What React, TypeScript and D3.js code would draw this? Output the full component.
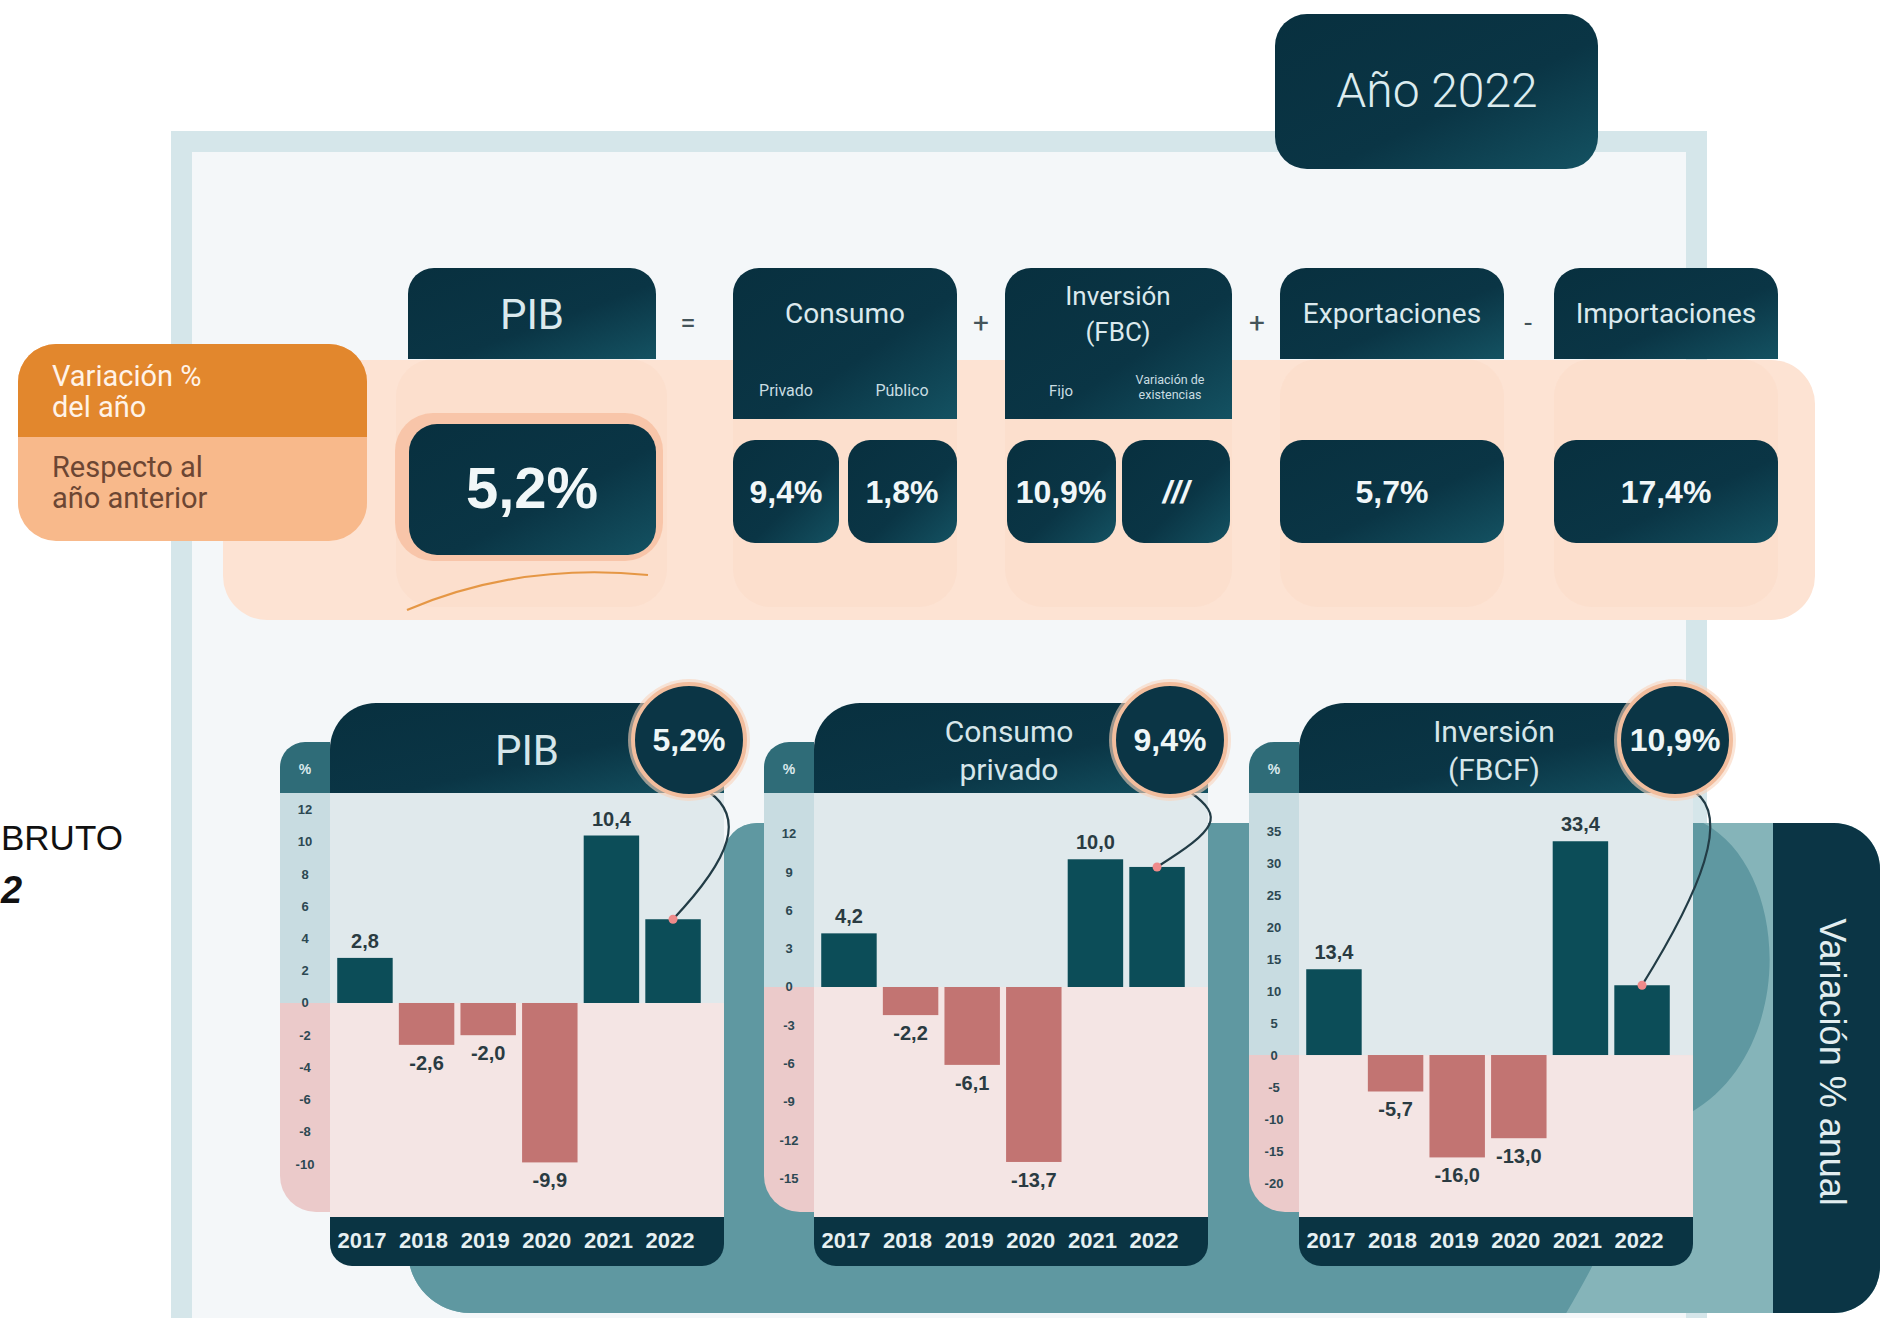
import React from "react";
import * as d3 from "d3";

// values (variación % anual)
const years = ["2017", "2018", "2019", "2020", "2021", "2022"];
const pibValues = [2.8, -2.6, -2.0, -9.9, 10.4, 5.2];
const consumoValues = [4.2, -2.2, -6.1, -13.7, 10.0, 9.4];
const inversionValues = [13.4, -5.7, -16.0, -13.0, 33.4, 10.9];

const pibTicks = [12, 10, 8, 6, 4, 2, 0, -2, -4, -6, -8, -10];
const consumoTicks = [12, 9, 6, 3, 0, -3, -6, -9, -12, -15];
const inversionTicks = [35, 30, 25, 20, 15, 10, 5, 0, -5, -10, -15, -20];

const chartTitles = [["PIB"], ["Consumo", "privado"], ["Inversión", "(FBCF)"]];
const badgeLabels = ["5,2%", "9,4%", "10,9%"];

const topHeaders = [["PIB"], ["Consumo"], ["Inversión", "(FBC)"], ["Exportaciones"], ["Importaciones"]];
const operators = ["=", "+", "+", "-"];
const subHeaders = [["Privado"], ["Público"], ["Fijo"], ["Variación de", "existencias"]];
const topValues = ["5,2%", "9,4%", "1,8%", "10,9%", "///", "5,7%", "17,4%"];
const rowLabels = [["Variación %", "del año"], ["Respecto al", "año anterior"]];
const yearTitle = "Año 2022";
const sideTitle = "Variación % anual";

const W = 1894;
const H = 1318;
const DARK = "#0b3545";
const POS = "#0c4d58";
const NEG = "#c27472";
const NUM_FONT = "'Liberation Sans', Arial, sans-serif";
const TXT_FONT = "Roboto, 'Open Sans', sans-serif";

const fmt = d3
  .formatLocale({ decimal: ",", thousands: ".", grouping: [3], currency: ["", ""], minus: "-" })
  .format(".1f");

// rounded rect with its own radius per corner
function rr(x: number, y: number, w: number, h: number, tl: number, tr: number, br: number, bl: number) {
  return `M${x + tl},${y} H${x + w - tr} A${tr},${tr} 0 0 1 ${x + w},${y + tr} V${y + h - br} A${br},${br} 0 0 1 ${x + w - br},${y + h} H${x + bl} A${bl},${bl} 0 0 1 ${x},${y + h - bl} V${y + tl} A${tl},${tl} 0 0 1 ${x + tl},${y} Z`;
}

// layout of the card row
const COL_W = 50;
const PLOT_W = 394;
const HEADER_TOP = 703;
const CAP_TOP = 742;
const PLOT_TOP = 793;
const PLOT_BOTTOM = 1217;
const AXIS_BOTTOM = 1266;
const COL_BOTTOM = 1212;
const BADGE_Y = 740;

const cards = [
  { x0: 280, values: pibValues, ticks: pibTicks, domain: [-13.29, 13.04], badgeX: 689 },
  { x0: 764, values: consumoValues, ticks: consumoTicks, domain: [-18.01, 15.19], badgeX: 1170 },
  { x0: 1249, values: inversionValues, ticks: inversionTicks, domain: [-25.31, 40.94], badgeX: 1675 },
];

function ChartCard({ idx }: { idx: number }) {
  const { x0, values, ticks, domain, badgeX } = cards[idx];
  const plotX = x0 + COL_W;
  const x = d3
    .scaleBand<string>()
    .domain(years)
    .range([plotX + 6, plotX + 372])
    .paddingInner(0.1)
    .paddingOuter(0.02);
  const y = d3.scaleLinear().domain(domain).range([PLOT_BOTTOM, PLOT_TOP]);
  const zero = y(0);
  const last = values.length - 1;
  const ex = (x(years[last]) as number) + x.bandwidth() / 2;
  const ey = y(values[last]);
  const sx = badgeX + 20;
  const sy = BADGE_Y + 52;
  const connector = `M${sx},${sy} C${sx + 35},${sy + 25} ${ex + 60},${ey - (ey - sy) * 0.5} ${ex},${ey}`;
  const title = chartTitles[idx];

  return (
    <g>
      {/* % column */}
      <path d={rr(x0, CAP_TOP, COL_W, PLOT_TOP - CAP_TOP, 25, 0, 0, 0)} fill="#2f6c78" />
      <text x={x0 + 25} y={774} textAnchor="middle" fontFamily={NUM_FONT} fontWeight="bold" fontSize={14} fill="#dbe9ec">
        %
      </text>
      <rect x={x0} y={PLOT_TOP} width={COL_W} height={zero - PLOT_TOP} fill="#c8dce1" />
      <path d={rr(x0, zero, COL_W, COL_BOTTOM - zero, 0, 0, 0, 36)} fill="#ebcaca" />

      {/* plot background */}
      <rect x={plotX} y={PLOT_TOP} width={PLOT_W} height={zero - PLOT_TOP} fill="#e0e9ec" />
      <rect x={plotX} y={zero} width={PLOT_W} height={PLOT_BOTTOM - zero} fill="#f4e5e4" />

      {/* header */}
      <path d={rr(plotX, HEADER_TOP, PLOT_W, PLOT_TOP - HEADER_TOP, 46, 20, 0, 0)} fill="url(#darkGrad)" />
      {title.length === 1 ? (
        <text x={plotX + PLOT_W / 2} y={765} textAnchor="middle" fontFamily={TXT_FONT} fontSize={42} fill="#d6e6ea">
          {title[0]}
        </text>
      ) : (
        title.map((t, i) => (
          <text
            key={t}
            x={plotX + PLOT_W / 2 - 2}
            y={742 + i * 38}
            textAnchor="middle"
            fontFamily={TXT_FONT}
            fontSize={30}
            fill="#d6e6ea"
          >
            {t}
          </text>
        ))
      )}

      {/* x axis band */}
      <path d={rr(plotX, PLOT_BOTTOM, PLOT_W, AXIS_BOTTOM - PLOT_BOTTOM, 0, 0, 22, 22)} fill="#0a3443" />
      {years.map((yr) => (
        <text
          key={yr}
          x={(x(yr) as number) + x.bandwidth() / 2 - 3}
          y={1248}
          textAnchor="middle"
          fontFamily={NUM_FONT}
          fontWeight="bold"
          fontSize={22}
          fill="#e6f0f2"
        >
          {yr}
        </text>
      ))}

      {/* tick labels */}
      {ticks.map((t) => (
        <text
          key={t}
          x={x0 + 25}
          y={y(t) + 4.5}
          textAnchor="middle"
          fontFamily={NUM_FONT}
          fontWeight="bold"
          fontSize={13}
          fill="#2c4852"
        >
          {t}
        </text>
      ))}

      {/* bars */}
      {values.map((v, i) => (
        <rect
          key={years[i]}
          x={x(years[i])}
          y={Math.min(y(v), zero)}
          width={x.bandwidth()}
          height={Math.abs(y(v) - zero)}
          fill={v >= 0 ? POS : NEG}
        />
      ))}
      {values.slice(0, last).map((v, i) => (
        <text
          key={years[i]}
          x={(x(years[i]) as number) + x.bandwidth() / 2}
          y={v >= 0 ? y(v) - 10 : y(v) + 25}
          textAnchor="middle"
          fontFamily={NUM_FONT}
          fontWeight="bold"
          fontSize={20}
          fill="#2a3b42"
        >
          {fmt(v)}
        </text>
      ))}

      {/* badge with connector */}
      <path d={connector} fill="none" stroke="#223c46" strokeWidth={2.2} />
      <circle cx={ex} cy={ey} r={4.5} fill="#ef8a8a" />
      <circle cx={badgeX} cy={BADGE_Y} r={61} fill="#f8d3bd" opacity={0.6} />
      <circle cx={badgeX} cy={BADGE_Y} r={56} fill={DARK} stroke="#f2bd9d" strokeWidth={4} />
      <text
        x={badgeX}
        y={BADGE_Y + 11}
        textAnchor="middle"
        fontFamily={NUM_FONT}
        fontWeight="bold"
        fontSize={32}
        fill="#eef6f7"
      >
        {badgeLabels[idx]}
      </text>
    </g>
  );
}

// top equation layout
const headerBoxes = [
  { x: 408, w: 248, h: 91 },
  { x: 733, w: 224, h: 151 },
  { x: 1005, w: 227, h: 151 },
  { x: 1280, w: 224, h: 91 },
  { x: 1554, w: 224, h: 91 },
];
const operatorX = [688, 981, 1257, 1528];
const subHeaderX = [786, 902, 1061, 1170];
const valueBoxes = [
  { x: 409, w: 247, cx: 532 },
  { x: 733, w: 106, cx: 786 },
  { x: 848, w: 109, cx: 902 },
  { x: 1007, w: 109, cx: 1061 },
  { x: 1122, w: 108, cx: 1176 },
  { x: 1280, w: 224, cx: 1392 },
  { x: 1554, w: 224, cx: 1666 },
];

function TopSection() {
  return (
    <g>
      {/* peach band */}
      <rect x={223} y={360} width={1592} height={260} rx={44} fill="#fde3d3" />
      {headerBoxes.map((b, i) => (
        <rect key={i} x={i === 0 ? 396 : b.x} y={359} width={i === 0 ? 271 : b.w} height={248} rx={38} fill="#fbd3bd" opacity={0.25} />
      ))}
      <path d="M407,610 Q520,562 648,575" fill="none" stroke="#e59745" strokeWidth={2.2} />

      {/* row labels */}
      <path d={rr(18, 344, 349, 197, 38, 38, 38, 38)} fill="#f8b98b" />
      <path d={rr(18, 344, 349, 93, 38, 38, 0, 0)} fill="#e2872d" />
      {rowLabels[0].map((t, i) => (
        <text key={t} x={52} y={386 + i * 31} fontFamily={TXT_FONT} fontSize={29} fill="#fff3e8">
          {t}
        </text>
      ))}
      {rowLabels[1].map((t, i) => (
        <text key={t} x={52} y={477 + i * 31} fontFamily={TXT_FONT} fontSize={29} fill="#6c4633">
          {t}
        </text>
      ))}

      {/* headers */}
      {headerBoxes.map((b, i) => (
        <path key={i} d={rr(b.x, 268, b.w, b.h, 26, 26, 0, 0)} fill="url(#darkGrad)" />
      ))}
      <text x={532} y={329} textAnchor="middle" fontFamily={TXT_FONT} fontSize={42} fill="#dbe9ed">
        {topHeaders[0][0]}
      </text>
      <text x={845} y={323} textAnchor="middle" fontFamily={TXT_FONT} fontSize={28} fill="#dbe9ed">
        {topHeaders[1][0]}
      </text>
      {topHeaders[2].map((t, i) => (
        <text key={t} x={1118} y={305 + i * 36} textAnchor="middle" fontFamily={TXT_FONT} fontSize={26} fill="#dbe9ed">
          {t}
        </text>
      ))}
      <text x={1392} y={323} textAnchor="middle" fontFamily={TXT_FONT} fontSize={28} fill="#dbe9ed">
        {topHeaders[3][0]}
      </text>
      <text x={1666} y={323} textAnchor="middle" fontFamily={TXT_FONT} fontSize={28} fill="#dbe9ed">
        {topHeaders[4][0]}
      </text>
      {operators.map((o, i) => (
        <text key={i} x={operatorX[i]} y={332} textAnchor="middle" fontFamily={TXT_FONT} fontSize={28} fill="#44545a">
          {o}
        </text>
      ))}
      {subHeaders.slice(0, 3).map((s, i) => (
        <text
          key={s[0]}
          x={subHeaderX[i]}
          y={396}
          textAnchor="middle"
          fontFamily={TXT_FONT}
          fontSize={i < 2 ? 16 : 15}
          fill="#c9dde2"
        >
          {s[0]}
        </text>
      ))}
      {subHeaders[3].map((t, i) => (
        <text key={t} x={subHeaderX[3]} y={384 + i * 15} textAnchor="middle" fontFamily={TXT_FONT} fontSize={12.5} fill="#c9dde2">
          {t}
        </text>
      ))}

      {/* values */}
      <rect x={395} y={413} width={268} height={148} rx={38} fill="#f7bc9c" opacity={0.75} />
      {valueBoxes.map((b, i) =>
        i === 0 ? (
          <rect key={i} x={409} y={424} width={247} height={131} rx={28} fill="url(#darkGrad)" />
        ) : (
          <rect key={i} x={b.x} y={440} width={b.w} height={103} rx={22} fill="url(#darkGrad)" />
        )
      )}
      {topValues.map((v, i) => (
        <text
          key={i}
          x={valueBoxes[i].cx}
          y={i === 0 ? 508 : 503}
          textAnchor="middle"
          fontFamily={NUM_FONT}
          fontWeight="bold"
          fontStyle={v === "///" ? "italic" : "normal"}
          fontSize={i === 0 ? 58 : 32}
          fill="#f1f7f8"
        >
          {v}
        </text>
      ))}

      {/* year tab */}
      <rect x={1275} y={14} width={323} height={155} rx={32} fill="url(#darkGrad)" />
      <text x={1437} y={107} textAnchor="middle" fontFamily={TXT_FONT} fontWeight={300} fontSize={48} fill="#dcecef">
        {yearTitle}
      </text>
    </g>
  );
}

export default function App() {
  return (
    <svg width={W} height={H} style={{ position: "absolute", left: 0, top: 0, background: "#ffffff" }}>
      <defs>
        <linearGradient id="darkGrad" x1="0" y1="0" x2="1" y2="1">
          <stop offset="0%" stopColor="#08303f" />
          <stop offset="58%" stopColor="#0a3545" />
          <stop offset="100%" stopColor="#145262" />
        </linearGradient>
        <clipPath id="tealClip">
          <path d={rr(723, 823, 1157, 490, 34, 46, 46, 0)} />
          <path d={rr(408, 1100, 400, 213, 0, 0, 0, 62)} />
        </clipPath>
      </defs>

      <rect x={0} y={0} width={W} height={H} fill="#ffffff" />

      {/* title remnant on the left */}
      <text x={1} y={850} fontFamily={NUM_FONT} fontSize={35} fill="#111111">
        BRUTO
      </text>
      <text x={1} y={903} fontFamily={NUM_FONT} fontWeight="bold" fontStyle="italic" fontSize={38} fill="#111111">
        2
      </text>

      {/* frame */}
      <rect x={181.5} y={141.5} width={1515} height={1200} fill="#f4f7f9" stroke="#d5e6ea" strokeWidth={21} />

      <TopSection />

      {/* teal backdrop */}
      <g clipPath="url(#tealClip)">
        <rect x={400} y={820} width={1490} height={500} fill="#85b4b9" />
        <path
          d="M380,820 L1697,820 C1790,860 1800,1050 1690,1113 C1640,1160 1605,1250 1562,1320 L380,1320 Z"
          fill="#5f98a1"
        />
      </g>
      <path d={rr(1773, 823, 107, 490, 0, 46, 46, 0)} fill={DARK} />
      <text
        transform="translate(1832,1062) rotate(90)"
        textAnchor="middle"
        dominantBaseline="central"
        fontFamily={NUM_FONT}
        fontSize={36}
        fill="#e2eef0"
      >
        {sideTitle}
      </text>

      {cards.map((c, i) => (
        <ChartCard key={i} idx={i} />
      ))}
    </svg>
  );
}
